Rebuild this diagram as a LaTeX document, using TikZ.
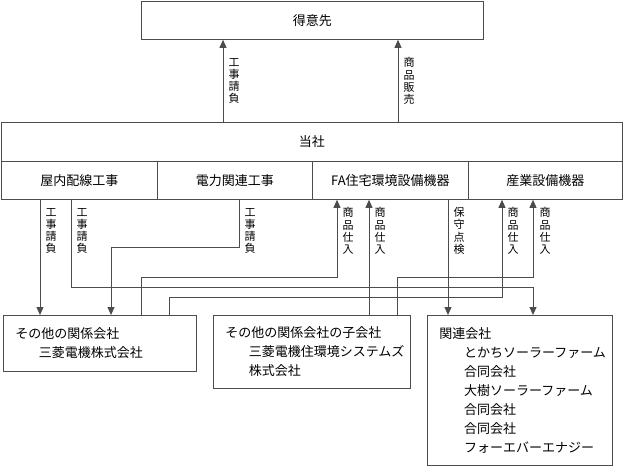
\documentclass[tikz,border=0pt]{standalone}
\usepackage{fontspec}
\setmainfont{Noto Sans CJK JP}
\usetikzlibrary{arrows.meta}

\begin{document}
\begin{tikzpicture}[x=1pt,y=-1pt,
    box/.style={draw=black!70, line width=0.8pt, anchor=north west, inner xsep=12pt, inner ysep=0pt, font=\fontsize{13}{19}\selectfont},
    arr/.style={draw=black!70, line width=0.8pt, -{Triangle[width=7pt,length=8pt]}},
    vlab/.style={align=center, inner sep=0pt, font=\fontsize{11}{12.3}\selectfont}]
    \useasboundingbox (0,0) rectangle (624,467);
    % Draw the customer and the company boxes
    \node[box, minimum width=342, minimum height=38] (tokui) at (141,1) {得意先};
    \node[box, minimum width=621, minimum height=39] (tosha) at (1,122) {当社};
    \foreach \n/\x/\w/\t in {okunai/1/156/屋内配線工事, denryoku/157/155/電力関連工事, fa/312/156/FA住宅環境設備機器, sangyo/468/154/産業設備機器}{
      \node[box, minimum width=\w, minimum height=38] (\n) at (\x,161) {\t};
    }
    % Draw the group companies
    \node[box, minimum width=193, minimum height=56, align=left, text width=169] (kankei) at (3,315)
      {その他の関係会社\\\hspace*{1.8em}三菱電機株式会社};
    \node[box, minimum width=197, minimum height=73, align=left, text width=173] (kogaisha) at (213,315)
      {その他の関係会社の子会社\\\hspace*{1.8em}三菱電機住環境システムズ\\\hspace*{1.8em}株式会社};
    \node[box, minimum width=185, minimum height=150, align=left, text width=161] (kanren) at (427,315)
      {関連会社\\\hspace*{1.9em}とかちソーラーファーム\\\hspace*{1.9em}合同会社\\\hspace*{1.9em}大樹ソーラーファーム\\\hspace*{1.9em}合同会社\\\hspace*{1.9em}合同会社\\\hspace*{1.9em}フォーエバーエナジー};
    % Draw the arrows to the customer
    \draw[arr] (tosha.north -| 223,0) -- (tokui.south -| 223,0);
    \node[vlab] (koji0) at (234,81) {工\\事\\請\\負};
    \draw[arr] (tosha.north -| 398,0) -- (tokui.south -| 398,0);
    \node[vlab] (hanbai) at (409,81) {商\\品\\販\\売};
    % Draw the arrows below the company
    \draw[arr] (okunai.south -| 40,0) -- (kankei.north -| 40,0);
    \node[vlab] (koji1) at (51,231) {工\\事\\請\\負};
    \draw[arr] (okunai.south -| 71,0) |- (533,287) -- (kanren.north -| 533,0);
    \node[vlab] (koji2) at (82,231) {工\\事\\請\\負};
    \draw[arr] (denryoku.south -| 239,0) |- (111,247) -- (kankei.north -| 111,0);
    \node[vlab] (koji3) at (250,231) {工\\事\\請\\負};
    \draw[arr] (kankei.north -| 141,0) |- (337,277) -- (fa.south -| 337,0);
    \node[vlab] (shiire1) at (348,231) {商\\品\\仕\\入};
    \draw[arr] (kogaisha.north -| 369,0) -- (fa.south -| 369,0);
    \node[vlab] (shiire2) at (380,231) {商\\品\\仕\\入};
    \draw[arr] (fa.south -| 448,0) -- (kanren.north -| 448,0);
    \node[vlab] (hoshu) at (459,231) {保\\守\\点\\検};
    \draw[arr] (kankei.north -| 169,0) |- (502,297) -- (sangyo.south -| 502,0);
    \node[vlab] (shiire3) at (513,231) {商\\品\\仕\\入};
    \draw[arr] (kogaisha.north -| 397,0) |- (533,277) -- (sangyo.south -| 533,0);
    \node[vlab] (shiire4) at (545,231) {商\\品\\仕\\入};
\end{tikzpicture}
\end{document}
